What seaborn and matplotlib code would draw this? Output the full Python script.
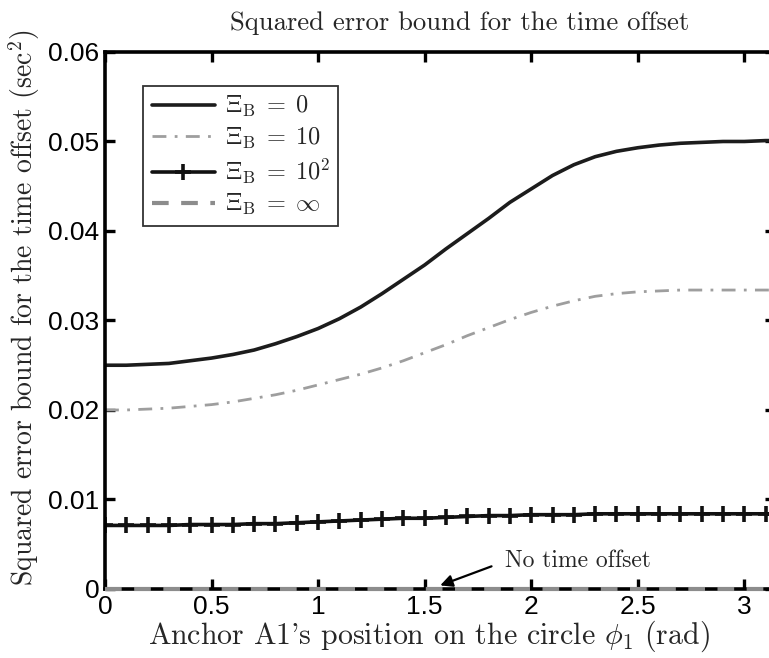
import numpy as np
import pandas as pd
import matplotlib
matplotlib.use("Agg")
import matplotlib.pyplot as plt
import seaborn as sns

# ---- data ----
phi = [0.0, 0.1, 0.2, 0.3, 0.4, 0.5, 0.6, 0.7, 0.8, 0.9,
       1.0, 1.1, 1.2, 1.3, 1.4, 1.5, 1.6, 1.7, 1.8, 1.9,
       2.0, 2.1, 2.2, 2.3, 2.4, 2.5, 2.6, 2.7, 2.8, 2.9,
       3.0, 3.1, 3.14159]
xi_0 = [0.0250, 0.0250, 0.0251, 0.0252, 0.0255, 0.0258, 0.0262, 0.0267, 0.0274, 0.0282,
        0.0291, 0.0302, 0.0315, 0.0330, 0.0346, 0.0362, 0.0380, 0.0397, 0.0414, 0.0432,
        0.0447, 0.0462, 0.0474, 0.0483, 0.0489, 0.0493, 0.0496, 0.0498, 0.0499, 0.0500,
        0.0500, 0.0501, 0.0501]
xi_10 = [0.0200, 0.0200, 0.0201, 0.0202, 0.0204, 0.0206, 0.0209, 0.0213, 0.0217, 0.0222,
         0.0228, 0.0234, 0.0240, 0.0247, 0.0255, 0.0264, 0.0273, 0.0283, 0.0292, 0.0301,
         0.0309, 0.0316, 0.0322, 0.0327, 0.0330, 0.0332, 0.0333, 0.0334, 0.0334, 0.0334,
         0.0334, 0.0334, 0.0334]
xi_100 = [0.0071, 0.0071, 0.0071, 0.0071, 0.0072, 0.0072, 0.0072, 0.0073, 0.0073, 0.0074,
          0.0075, 0.0076, 0.0077, 0.0078, 0.0079, 0.0079, 0.0080, 0.0081, 0.0082, 0.0082,
          0.0083, 0.0083, 0.0083, 0.0084, 0.0084, 0.0084, 0.0084, 0.0084, 0.0084, 0.0084,
          0.0084, 0.0084, 0.0084]
xi_inf = [0.0] * len(phi)

labels = [r'$\Xi_{\mathrm{B}}\;=\;0$', r'$\Xi_{\mathrm{B}}\;=\;10$',
          r'$\Xi_{\mathrm{B}}\;=\;10^2$', r'$\Xi_{\mathrm{B}}\;=\;\infty$']
xticks = [0, 0.5, 1, 1.5, 2, 2.5, 3]
yticks = [0, 0.01, 0.02, 0.03, 0.04, 0.05, 0.06]
ytick_labels = ['0', '0.01', '0.02', '0.03', '0.04', '0.05', '0.06']
xtick_labels = ['0', '0.5', '1', '1.5', '2', '2.5', '3']

sns.set_style("ticks")
plt.rcParams['mathtext.fontset'] = 'cm'
plt.rcParams['font.family'] = ['Liberation Sans', 'DejaVu Sans']

fig = plt.figure(figsize=(7.69, 6.58), dpi=100)
ax = fig.add_axes([0.1365, 0.1049, 0.8707, 0.8161])

sns.lineplot(x=phi, y=xi_0, ax=ax, color='#1c1c1c', lw=2.6, label=labels[0])
sns.lineplot(x=phi, y=xi_10, ax=ax, color='#9e9e9e', lw=2.0,
             linestyle=(0, (5, 3, 1, 3)), label=labels[1])
sns.lineplot(x=phi, y=xi_100, ax=ax, color='#111111', lw=2.6, marker='+',
             markersize=12, markeredgewidth=2.6, markeredgecolor='#111111',
             label=labels[2])
sns.lineplot(x=phi, y=xi_inf, ax=ax, color='#8c8c8c', lw=3.0,
             linestyle=(0, (4, 3)), label=labels[3])
ax.lines[-1].set_zorder(5)
ax.lines[-1].set_clip_on(False)

ax.set_xlim(0, np.pi)
ax.set_ylim(0, 0.06)
ax.set_xticks(xticks)
ax.set_xticklabels(xtick_labels)
ax.set_yticks(yticks)
ax.set_yticklabels(ytick_labels)
ax.tick_params(direction='in', length=7, width=2.4, labelsize=19,
               top=True, right=True, pad=4, colors='black')
for s in ax.spines.values():
    s.set_linewidth(2.6)
    s.set_color('black')
    s.set_visible(True)

ax.set_title('Squared error bound for the time offset', fontfamily='cmr10',
             fontsize=19.2, x=0.53, pad=16)
ax.set_xlabel(r"Anchor A1's position on the circle $\phi_1$ (rad)",
              fontfamily='cmr10', fontsize=21.5, labelpad=0)
ax.set_ylabel(r'Squared error bound for the time offset (sec$^2$)',
              fontfamily='cmr10', fontsize=20, labelpad=1)
ax.xaxis.set_label_coords(0.484, -0.055, transform=ax.transAxes)
ax.xaxis.label.set_va('top')
ax.yaxis.set_label_coords(-0.094, 0.525, transform=ax.transAxes)

leg = ax.legend(loc='upper left', bbox_to_anchor=(0.057, 0.937), borderaxespad=0,
                fontsize=17.5, handlelength=2.6, labelspacing=0.25, borderpad=0.35,
                handletextpad=0.4, fancybox=False, framealpha=1)
leg.get_frame().set_edgecolor('#333333')
leg.get_frame().set_linewidth(1.3)

ax.annotate('No time offset', xy=(1.573, 0.0004), xytext=(1.878, 0.0031),
            fontfamily='cmr10', fontsize=17, va='center', ha='left',
            arrowprops=dict(arrowstyle='-|>', color='black', lw=1.6,
                            relpos=(0, 0.5), shrinkA=8, shrinkB=0,
                            mutation_scale=18))

fig.savefig('out.png', dpi=100)
